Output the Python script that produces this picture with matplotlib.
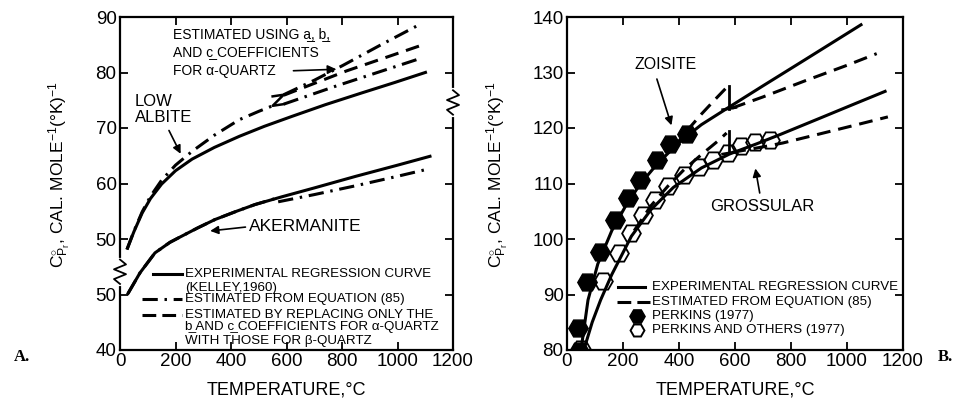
import numpy as np
import matplotlib.pyplot as plt

plt.rcParams['font.family'] = ['Liberation Sans', 'DejaVu Sans']
plt.rcParams['mathtext.fontset'] = 'custom'
plt.rcParams['mathtext.rm'] = 'Liberation Sans'
plt.rcParams['mathtext.it'] = 'Liberation Sans:italic'

# ---- panel A (positions on the broken axis) ----
albite_t = [25, 50, 80, 110, 150, 200, 260, 340, 430, 520, 620, 740, 870, 990, 1106]
albite_cp = [48.1, 51.3, 54.7, 57.3, 59.9, 62.3, 64.4, 66.5, 68.5, 70.3, 72.1, 74.2, 76.3, 78.2, 80.1]

albite_eq_t = [25, 50, 80, 110, 150, 200, 260, 340, 430, 500, 550]
albite_eq_cp = [48.1, 51.4, 54.9, 57.7, 60.6, 63.3, 65.8, 68.7, 71.5, 73.0, 74.0]
albite_alpha_t = [590, 700, 804, 937, 1074]
albite_alpha_cp = [76.0, 78.6, 81.3, 84.9, 88.5]
albite_bc_t = [590, 817, 1080]
albite_bc_cp = [75.9, 80.3, 84.8]
albite_beta_t = [590, 781, 1074]
albite_beta_cp = [74.3, 77.6, 82.4]

aker_t = [29, 72, 126, 180, 222, 280, 342, 420, 486, 583, 700, 850, 1000, 1117]
aker_cp = [40.2, 43.9, 47.5, 49.4, 50.5, 52.0, 53.5, 55.0, 56.2, 57.6, 59.2, 61.3, 63.3, 64.9]
aker_eq_t = [29, 72, 126, 180, 222, 280, 342, 420, 486, 560]
aker_eq_cp = [40.2, 43.9, 47.5, 49.4, 50.5, 52.0, 53.5, 55.0, 56.2, 57.3]
aker_eq2_t = [570, 700, 850, 1000, 1110]
aker_eq2_cp = [56.7, 58.0, 59.6, 61.3, 62.6]

a_ytick_pos = [30, 40, 50, 60, 70, 80, 90]
a_ytick_lab = ['40', '50', '50', '60', '70', '80', '90']

# ---- panel B ----
zoi_t = [50, 75, 110, 160, 210, 260, 320, 380, 430, 480, 580, 700, 850, 1050]
zoi_cp = [80, 89, 95.5, 101.5, 106, 109.8, 113.4, 116.4, 118.6, 120.6, 123.8, 127.6, 132.3, 138.6]
zoi_eq_t = [380, 430, 480, 530, 570]
zoi_eq_cp = [116.4, 119.6, 122.5, 125.2, 127.3]
zoi_eq2_t = [590, 700, 850, 1000, 1106]
zoi_eq2_cp = [123.6, 125.6, 128.5, 131.3, 133.4]

gro_t = [60, 90, 120, 160, 230, 300, 380, 480, 580, 680, 760, 900, 1020, 1136]
gro_cp = [80, 85, 89, 93.6, 100.5, 105.3, 109.3, 112.8, 115.3, 117.2, 118.8, 121.7, 124.2, 126.6]
gro_eq_t = [240, 300, 360, 420, 480, 540, 570]
gro_eq_cp = [101.5, 106.0, 109.5, 112.6, 115.2, 117.7, 119.1]
gro_eq2_t = [590, 700, 771, 900, 1020, 1146]
gro_eq2_cp = [115.6, 116.6, 117.3, 118.9, 120.4, 122.0]

perkins_t = [42, 40, 70, 118, 171, 219, 261, 320, 368, 428]
perkins_cp = [79.8, 83.9, 92.3, 97.7, 103.4, 107.3, 110.6, 114.2, 117.2, 119.0]
others_t = [50, 130, 185, 230, 272, 314, 362, 418, 470, 522, 575, 622, 670, 725]
others_cp = [80.2, 92.5, 97.5, 101.0, 104.4, 107.1, 109.6, 111.5, 113.0, 114.3, 115.5, 116.7, 117.5, 117.9]

xticks = [0, 200, 400, 600, 800, 1000, 1200]

LW = 2.2
DASHDOT = (5, 2.2, 0.8, 2.2)
DASH = (4.5, 2.6)

fig = plt.figure(figsize=(9.64, 3.99), dpi=100)
axA = fig.add_axes([120/964, 49/399, 333/964, 333/399])
axB = fig.add_axes([567/964, 49/399, 336/964, 333/399])

for ax in (axA, axB):
    ax.set_xlim(0, 1200)
    ax.set_xticks(xticks)
    ax.tick_params(direction='in', length=6, width=1.3, top=True, right=True,
                   labelsize=13.5, pad=2.5)
    for s in ax.spines.values():
        s.set_linewidth(1.6)
    ax.set_xlabel('TEMPERATURE,°C', fontsize=13, labelpad=8)

# ---------------- A ----------------
axA.set_ylim(30, 90)
axA.set_yticks(a_ytick_pos)
axA.set_yticklabels(a_ytick_lab)

axA.plot(albite_t, albite_cp, 'k-', lw=LW, solid_capstyle='butt')
axA.plot(albite_eq_t, albite_eq_cp, 'k', lw=LW, dashes=DASHDOT)
axA.plot(albite_alpha_t, albite_alpha_cp, 'k', lw=LW, dashes=DASHDOT)
axA.plot(albite_bc_t, albite_bc_cp, 'k', lw=LW, dashes=DASH)
axA.plot(albite_beta_t, albite_beta_cp, 'k', lw=LW, dashes=DASHDOT)
# Z-shaped jump at the quartz inversion
x0, y0 = albite_eq_t[-1], albite_eq_cp[-1]
x1, y1 = albite_alpha_t[0], albite_alpha_cp[0]
axA.plot([x0, x1, x0, x1], [y1 - 0.3, y1, y0, y0 + 0.3], 'k-', lw=1.8)

axA.plot(aker_t, aker_cp, 'k-', lw=LW)
axA.plot(aker_eq_t, aker_eq_cp, 'k', lw=LW, dashes=DASHDOT)
axA.plot(aker_eq2_t, aker_eq2_cp, 'k', lw=LW, dashes=DASHDOT)

# axis break marks
def zigzag(ax, xa, yc, h=2.2, w=0.018):
    tr = ax.get_yaxis_transform()
    ax.plot([xa, xa], [yc - h, yc + h], color='white', lw=3, transform=tr,
            clip_on=False, zorder=5)
    zx = [xa, xa - w, xa + w, xa - w, xa + w, xa]
    zy = [yc - h, yc - h * 0.6, yc - h * 0.2, yc + h * 0.2, yc + h * 0.6, yc + h]
    ax.plot(zx, zy, 'k-', lw=1.3, transform=tr, clip_on=False, zorder=6)

zigzag(axA, 0, 44.1)
zigzag(axA, 1, 74.6)

kw = dict(fontsize=10, va='center', ha='left')
axA.text(191, 86.9, 'ESTIMATED USING a\u0332, b\u0332,', **kw)
axA.text(191, 83.7, 'AND c\u0332 COEFFICIENTS', **kw)
axA.text(191, 80.3, 'FOR α-QUARTZ', **kw)
axA.annotate('', xy=(790, 80.6), xytext=(615, 80.3),
             arrowprops=dict(arrowstyle='-|>', color='k', lw=1.2, mutation_scale=13))
axA.text(54, 74.8, 'LOW', fontsize=12, va='center')
axA.text(54, 71.9, 'ALBITE', fontsize=12, va='center')
axA.annotate('', xy=(223, 64.9), xytext=(172, 70.0),
             arrowprops=dict(arrowstyle='-|>', color='k', lw=1.2, mutation_scale=12))
axA.text(466, 52.2, 'AKERMANITE', fontsize=12.5, va='center')
axA.annotate('', xy=(315, 51.4), xytext=(462, 52.2),
             arrowprops=dict(arrowstyle='-|>', color='k', lw=1.2, mutation_scale=12))

tA = axA.transAxes
axA.plot([0.099, 0.186], [0.228, 0.228], 'k-', lw=LW, transform=tA)
axA.plot([0.066, 0.186], [0.153, 0.153], 'k', lw=LW, dashes=DASHDOT, transform=tA)
axA.plot([0.066, 0.186], [0.105, 0.105], 'k', lw=LW, dashes=(4.5, 2.0), transform=tA)
lk = dict(fontsize=9.6, va='center', ha='left', transform=tA)
axA.text(0.195, 0.228, 'EXPERIMENTAL REGRESSION CURVE', **lk)
axA.text(0.195, 0.186, '(KELLEY,1960)', **lk)
axA.text(0.195, 0.153, 'ESTIMATED FROM EQUATION (85)', **lk)
axA.text(0.195, 0.105, 'ESTIMATED BY REPLACING ONLY THE', **lk)
axA.text(0.195, 0.069, 'b\u0332 AND c\u0332 COEFFICIENTS FOR α-QUARTZ', **lk)
axA.text(0.195, 0.027, 'WITH THOSE FOR β-QUARTZ', **lk)

# ---------------- B ----------------
axB.set_ylim(80, 140)
axB.set_yticks(range(80, 141, 10))

axB.plot(zoi_t, zoi_cp, 'k-', lw=LW)
axB.plot(zoi_eq_t, zoi_eq_cp, 'k', lw=LW, dashes=DASH)
axB.plot(zoi_eq2_t, zoi_eq2_cp, 'k', lw=LW, dashes=DASH)
axB.plot(gro_t, gro_cp, 'k-', lw=LW)
axB.plot(gro_eq_t, gro_eq_cp, 'k', lw=LW, dashes=DASH)
axB.plot(gro_eq2_t, gro_eq2_cp, 'k', lw=LW, dashes=DASH)

# "1"-shaped steps where the estimates jump
for pre_t, pre_c, post_t, post_c in [(zoi_eq_t, zoi_eq_cp, zoi_eq2_t, zoi_eq2_cp),
                                     (gro_eq_t, gro_eq_cp, gro_eq2_t, gro_eq2_cp)]:
    xs = pre_t[-1] + 8
    axB.plot([xs, xs], [pre_c[-1] + 0.3, post_c[0] - 0.1], 'k-', lw=2.0)
    axB.plot([xs - 22, xs + 25], [post_c[0] - 0.3, post_c[0] + 0.1], 'k-', lw=2.0)

axB.plot(others_t, others_cp, 'H', ms=13.5, mfc='none', mec='k', mew=1.3, zorder=4)
axB.plot(perkins_t, perkins_cp, 'H', ms=14, mfc='k', mec='k', zorder=4)

axB.text(354, 131.4, 'ZOISITE', fontsize=11.5, ha='center', va='center')
axB.annotate('', xy=(376, 120.0), xytext=(318, 129.3),
             arrowprops=dict(arrowstyle='-|>', color='k', lw=1.2, mutation_scale=12))
axB.text(696, 105.8, 'GROSSULAR', fontsize=12, ha='center', va='center')
axB.annotate('', xy=(671, 113.2), xytext=(690, 107.8),
             arrowprops=dict(arrowstyle='-|>', color='k', lw=1.2, mutation_scale=12))

tB = axB.transAxes
axB.plot([0.152, 0.232], [0.189, 0.189], 'k-', lw=LW, transform=tB)
axB.plot([0.149, 0.247], [0.144, 0.144], 'k', lw=LW, dashes=(4.5, 2.0), transform=tB)
axB.plot([0.208], [0.102], 'H', ms=11, mfc='k', mec='k', transform=tB)
axB.plot([0.208], [0.060], 'H', ms=10, mfc='none', mec='k', mew=1.4, transform=tB)
lk['transform'] = tB
axB.text(0.253, 0.189, 'EXPERIMENTAL REGRESSION CURVE', **lk)
axB.text(0.253, 0.144, 'ESTIMATED FROM EQUATION (85)', **lk)
axB.text(0.253, 0.102, 'PERKINS (1977)', **lk)
axB.text(0.253, 0.060, 'PERKINS AND OTHERS (1977)', **lk)

ylab = r'$\mathrm{C}^{\circ}_{\mathrm{P}_{\mathrm{r}}}$, CAL. MOLE$^{-1}$(°K)$^{-1}$'
fig.text(60/964, 1 - 175/399, ylab, rotation=90, ha='center', va='center', fontsize=12.5)
fig.text(498/964, 1 - 175/399, ylab, rotation=90, ha='center', va='center', fontsize=12.5)

fig.text(22/964, 1 - 357/399, 'A.', family='Liberation Serif', weight='bold',
         fontsize=12, ha='center', va='center')
fig.text(945/964, 1 - 357/399, 'B.', family='Liberation Serif', weight='bold',
         fontsize=12, ha='center', va='center')

fig.savefig('out.png', dpi=100)
